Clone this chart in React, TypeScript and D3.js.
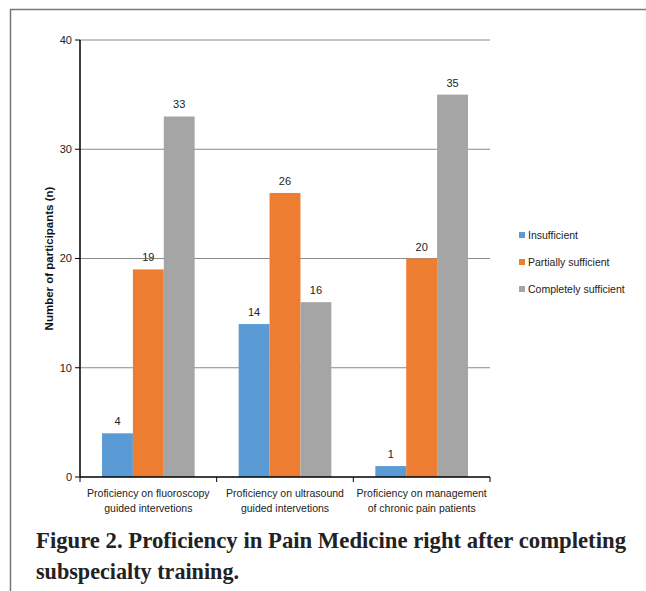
import React from "react";
import * as d3 from "d3";

const categories = [
  ["Proficiency on fluoroscopy", "guided intervetions"],
  ["Proficiency on ultrasound", "guided intervetions"],
  ["Proficiency on management", "of chronic pain patients"],
];
const seriesNames = ["Insufficient", "Partially sufficient", "Completely sufficient"];
const insufficient = [4, 14, 1];
const partially = [19, 26, 20];
const completely = [33, 16, 35];
const yTicks = [0, 10, 20, 30, 40];
const colors = ["#5B9BD5", "#ED7D31", "#A5A5A5"];
const captionLines = [
  "Figure 2. Proficiency in Pain Medicine right after completing",
  "subspecialty training.",
];
const captionWidths = [590, 203];

const W = 646;
const H = 591;
const left = 80;
const right = 490;
const top = 40;
const bottom = 477;

export default function App() {
  const series = [insufficient, partially, completely];
  const x0 = d3.scaleBand<number>().domain(d3.range(categories.length)).range([left, right]).padding(0);
  const step = x0.bandwidth();
  const gap = 22;
  const x1 = d3.scaleBand<number>().domain(d3.range(series.length)).range([gap, step - gap]).padding(0);
  const y = d3.scaleLinear().domain([0, 40]).range([bottom, top]);
  const font = "'Liberation Sans', Arial, sans-serif";

  return (
    <svg width={W} height={H} style={{ position: "absolute", left: 0, top: 0, background: "#fff" }}>
      <rect x={0} y={0} width={W} height={H} fill="#fff" />
      {/* frame */}
      <line x1={10.5} x2={10.5} y1={9} y2={H} stroke="#777" strokeWidth={1.5} />
      <line x1={10} x2={W} y1={9.5} y2={9.5} stroke="#777" strokeWidth={1.5} />

      {/* gridlines */}
      {yTicks.filter((t) => t > 0).map((t) => (
        <line key={t} x1={left} x2={right} y1={y(t)} y2={y(t)} stroke="#8a8a8a" strokeWidth={1} />
      ))}
      {/* y tick labels & ticks */}
      {yTicks.map((t) => (
        <g key={"yt" + t}>
          <line x1={left - 5} x2={left} y1={y(t)} y2={y(t)} stroke="#000" />
          <text x={left - 8} y={y(t)} dy="0.35em" textAnchor="end" fontFamily={font} fontSize={11} fill="#222">
            {t}
          </text>
        </g>
      ))}

      {/* bars */}
      {categories.map((c, ci) => (
        <g key={ci} transform={`translate(${x0(ci)},0)`}>
          {series.map((s, si) => (
            <g key={si}>
              <rect x={x1(si)} y={y(s[ci])} width={x1.bandwidth()} height={bottom - y(s[ci])} fill={colors[si]} />
              <text
                x={(x1(si) as number) + x1.bandwidth() / 2}
                y={y(s[ci]) - 8}
                textAnchor="middle"
                fontFamily={font}
                fontSize={11}
                fill="#222"
              >
                {s[ci]}
              </text>
            </g>
          ))}
        </g>
      ))}

      {/* axes */}
      <line x1={left} x2={left} y1={top} y2={bottom} stroke="#000" strokeWidth={1.5} />
      <line x1={left} x2={right} y1={bottom} y2={bottom} stroke="#000" strokeWidth={1.5} />
      {d3.range(categories.length + 1).map((i) => {
        const xx = left + i * step;
        return <line key={"xt" + i} x1={xx} x2={xx} y1={bottom} y2={bottom + 5} stroke="#000" />;
      })}

      {/* category labels */}
      {categories.map((c, ci) => (
        <text
          key={"cl" + ci}
          x={(x0(ci) as number) + step / 2}
          textAnchor="middle"
          fontFamily={font}
          fontSize={10.5}
          fill="#222"
        >
          {c.map((line, li) => (
            <tspan key={li} x={(x0(ci) as number) + step / 2} y={497 + li * 14.5}>
              {line}
            </tspan>
          ))}
        </text>
      ))}

      {/* y axis title */}
      <text
        transform={`translate(53,${(top + bottom) / 2}) rotate(-90)`}
        textAnchor="middle"
        fontFamily={font}
        fontSize={11.5}
        fontWeight="bold"
        fill="#111"
      >
        Number of participants (n)
      </text>

      {/* legend */}
      {seriesNames.map((n, i) => (
        <g key={n} transform={`translate(519,${235 + i * 27})`}>
          <rect x={0} y={-3} width={6} height={6} fill={colors[i]} />
          <text x={9} y={0} dy="0.35em" fontFamily={font} fontSize={10.5} fill="#222">
            {n}
          </text>
        </g>
      ))}

      {/* caption */}
      {captionLines.map((l, i) => (
        <text
          key={i}
          x={36}
          y={548 + i * 31}
          fontFamily="'Liberation Serif', 'Times New Roman', serif"
          fontWeight="bold"
          fontSize={23.5}
          textLength={captionWidths[i]}
          lengthAdjust="spacingAndGlyphs"
          fill="#222"
        >
          {l}
        </text>
      ))}
    </svg>
  );
}
